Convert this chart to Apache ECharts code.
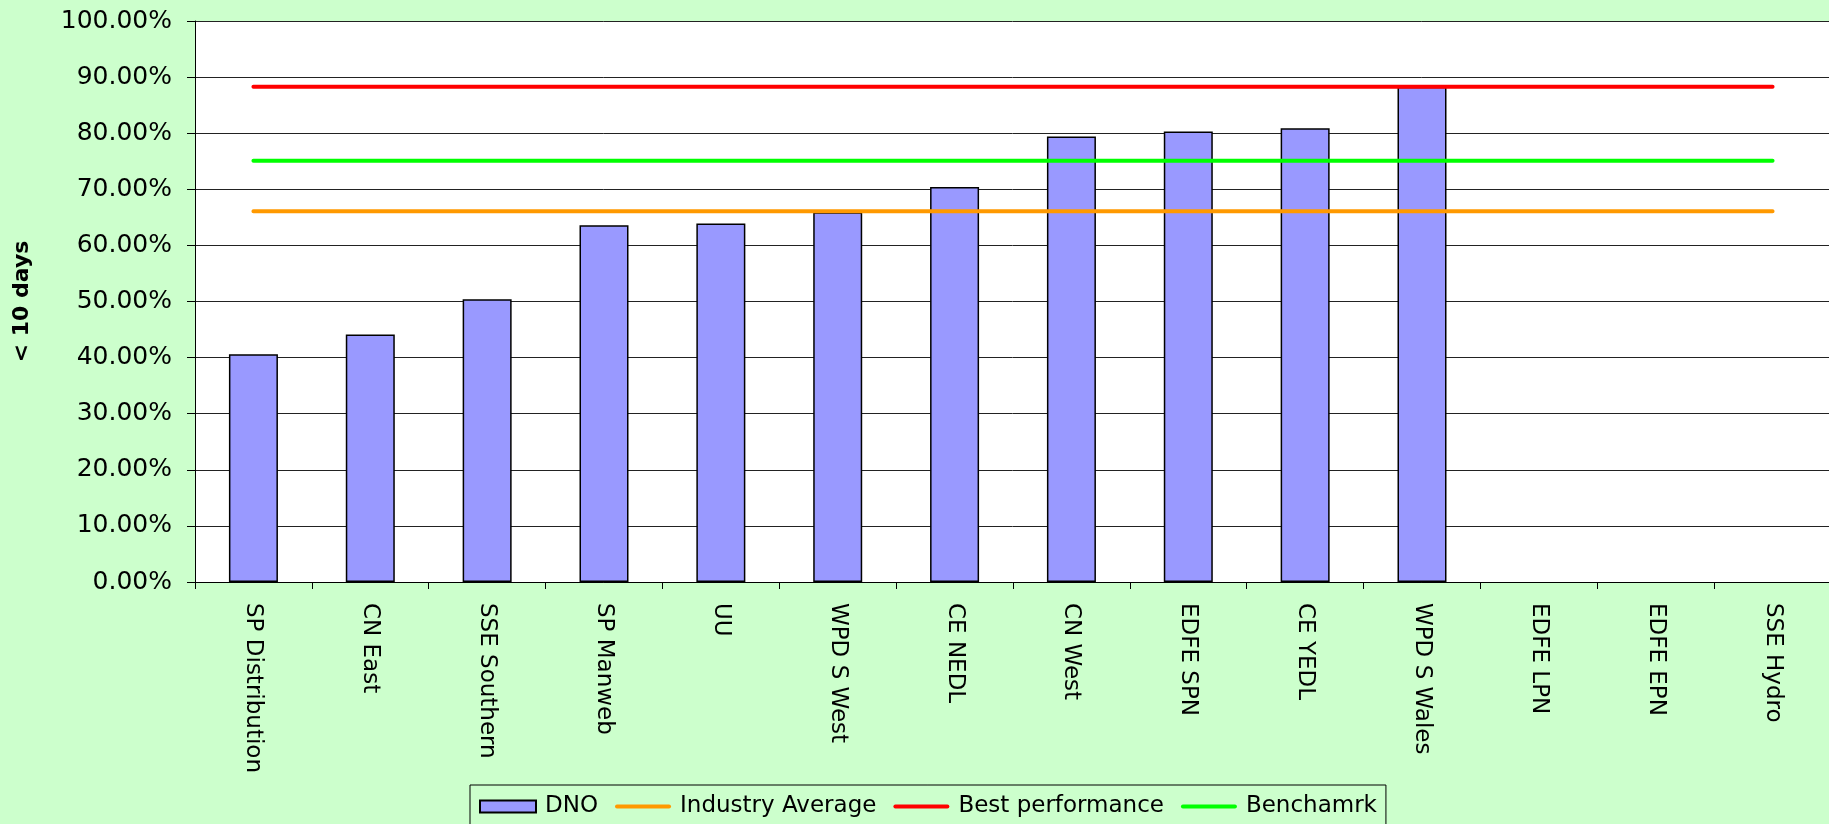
<!DOCTYPE html>
<html>
<head>
<meta charset="utf-8">
<title>DNO &lt; 10 days</title>
<script src="https://cdn.jsdelivr.net/npm/echarts@6/dist/echarts.min.js"></script>
<style>
  html, body { margin: 0; padding: 0; background: #ccffcc; }
  #chart { width: 1829px; height: 824px; }
</style>
</head>
<body>
<div id="chart"></div>
<script>
// categories (DNOs) in chart order
var categories = ['SP Distribution', 'CN East', 'SSE Southern', 'SP Manweb', 'UU', 'WPD S West',
  'CE NEDL', 'CN West', 'EDFE SPN', 'CE YEDL', 'WPD S Wales', 'EDFE LPN', 'EDFE EPN', 'SSE Hydro']

// % of jobs done in < 10 days
var dno = [40.6, 44.1, 50.4, 63.6, 63.9, 65.9, 70.4, 79.4, 80.3, 80.9, 88.3, null, null, null]
var industryAverage = [66.1, 66.1, 66.1, 66.1, 66.1, 66.1, 66.1, 66.1, 66.1, 66.1, 66.1, 66.1, 66.1, 66.1]
var bestPerformance = [88.3, 88.3, 88.3, 88.3, 88.3, 88.3, 88.3, 88.3, 88.3, 88.3, 88.3, 88.3, 88.3, 88.3]
var benchmark = [75.1, 75.1, 75.1, 75.1, 75.1, 75.1, 75.1, 75.1, 75.1, 75.1, 75.1, 75.1, 75.1, 75.1]

var FONT = 'DejaVu Sans'
// flat bar used as legend icon for the reference lines
var LINE_ICON = 'path://M2,0 L54,0 A2,2 0 0 1 54,4 L2,4 A2,2 0 0 1 2,0 Z'

var chart = echarts.init(document.getElementById('chart'))

function refLine(name, data, color) {
  return {
    name: name,
    type: 'line',
    data: data,
    symbol: 'none',
    silent: true,
    lineStyle: { color: color, width: 4, cap: 'round' },
    itemStyle: { color: color }
  }
}

chart.setOption({
  backgroundColor: '#ccffcc',
  animation: false,
  textStyle: { fontFamily: FONT, color: '#000' },
  grid: {
    left: 195,
    top: 21,
    right: -2,
    bottom: 242,
    outerBoundsMode: 'none',
    containLabel: false,
    show: true,
    backgroundColor: '#ffffff',
    borderWidth: 0
  },
  legend: {
    left: 470,
    top: 785,
    padding: [10, 9, 24, 9],
    itemGap: 17,
    itemWidth: 56,
    itemHeight: 12,
    borderColor: '#000',
    borderWidth: 1,
    textStyle: { fontFamily: FONT, fontSize: 23, color: '#000', padding: [0, 0, 0, 4] },
    data: [
      { name: 'DNO', icon: 'rect' },
      { name: 'Industry Average', icon: LINE_ICON },
      { name: 'Best performance', icon: LINE_ICON },
      { name: 'Benchamrk', icon: LINE_ICON }
    ]
  },
  xAxis: {
    type: 'category',
    data: categories,
    boundaryGap: true,
    axisLine: { lineStyle: { color: '#000', width: 1 } },
    axisTick: { show: true, length: 7, inside: false, lineStyle: { color: '#000' } },
    axisLabel: {
      interval: 0,
      rotate: -90,
      margin: 21,
      fontFamily: FONT,
      fontSize: 23,
      color: '#000'
    },
    splitLine: { show: false }
  },
  yAxis: {
    type: 'value',
    min: 0,
    max: 100,
    interval: 10,
    name: '< 10 days',
    nameLocation: 'middle',
    nameRotate: 90,
    nameGap: 162,
    nameTextStyle: { fontFamily: FONT, fontSize: 22, fontWeight: 'bold', color: '#000' },
    axisLine: { show: true, lineStyle: { color: '#000', width: 1 } },
    axisTick: { show: true, length: 8, inside: false, lineStyle: { color: '#000' } },
    axisLabel: {
      margin: 23,
      fontFamily: FONT,
      fontSize: 25,
      color: '#000',
      formatter: function (v) { return v.toFixed(2) + '%' }
    },
    splitLine: { show: true, lineStyle: { color: '#222', width: 1 } }
  },
  series: [
    {
      name: 'DNO',
      type: 'bar',
      data: dno,
      barWidth: 49,
      itemStyle: { color: '#9999ff', borderColor: '#000', borderWidth: 1.5 }
    },
    refLine('Industry Average', industryAverage, '#ff9900'),
    refLine('Best performance', bestPerformance, '#ff0000'),
    refLine('Benchamrk', benchmark, '#00ff00')
  ]
})
</script>
</body>
</html>
